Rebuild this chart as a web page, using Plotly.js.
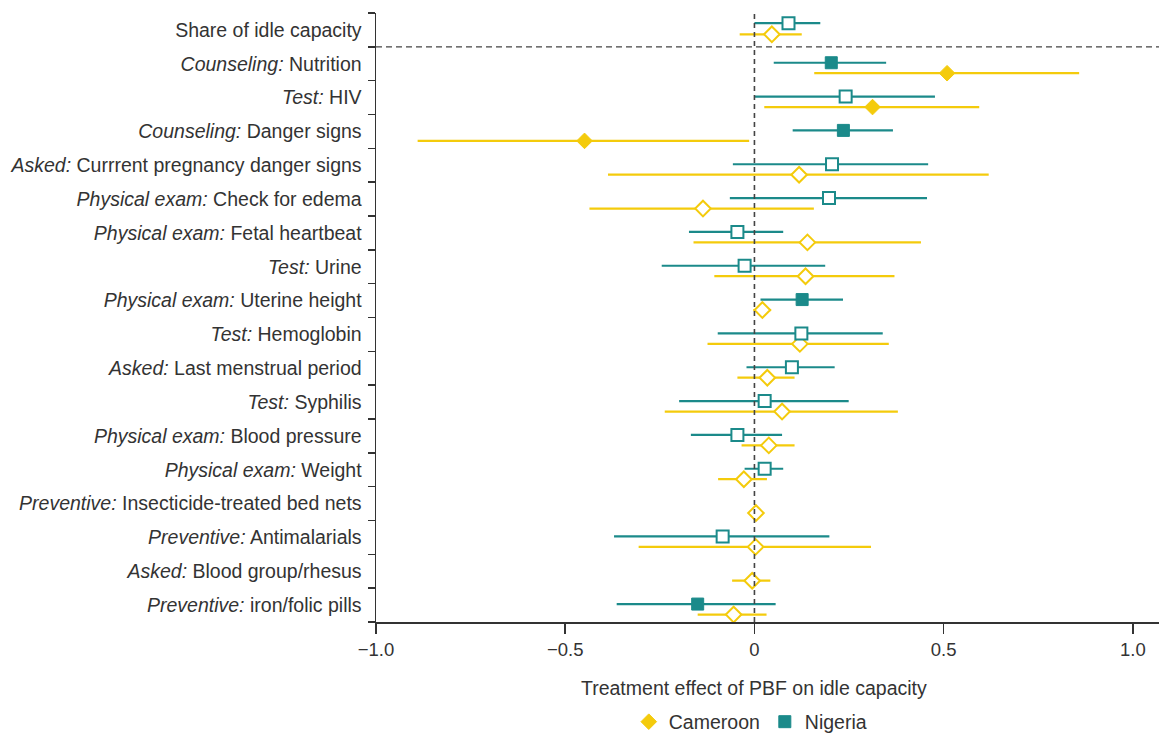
<!DOCTYPE html>
<html><head><meta charset="utf-8">
<script src="https://cdn.plot.ly/plotly-3.0.1.min.js"></script>
<style>html,body{margin:0;padding:0;background:#fff}#chart{width:1159px;height:733px}</style>
</head><body><div id="chart"></div>
<script>
// ---- data ----
const categoryType = ["", "Counseling", "Test", "Counseling", "Asked", "Physical exam", "Physical exam", "Test",
  "Physical exam", "Test", "Asked", "Test", "Physical exam", "Physical exam", "Preventive", "Preventive", "Asked", "Preventive"];
const categoryName = ["Share of idle capacity", "Nutrition", "HIV", "Danger signs", "Currrent pregnancy danger signs",
  "Check for edema", "Fetal heartbeat", "Urine", "Uterine height", "Hemoglobin", "Last menstrual period", "Syphilis",
  "Blood pressure", "Weight", "Insecticide-treated bed nets", "Antimalarials", "Blood group/rhesus", "iron/folic pills"];

const nigeriaEst = [0.090, 0.203, 0.241, 0.235, 0.205, 0.197, -0.045, -0.026, 0.126, 0.124, 0.099, 0.027, -0.045, 0.027, null, -0.084, null, -0.150];
const nigeriaLo  = [0.000, 0.051, 0.000, 0.101, -0.057, -0.065, -0.173, -0.245, 0.016, -0.097, -0.021, -0.199, -0.168, -0.026, null, -0.371, null, -0.364];
const nigeriaHi  = [0.174, 0.348, 0.477, 0.366, 0.459, 0.456, 0.076, 0.187, 0.234, 0.339, 0.212, 0.249, 0.073, 0.076, null, 0.198, null, 0.056];
const nigeriaSig = [0, 1, 0, 1, 0, 0, 0, 0, 1, 0, 0, 0, 0, 0, 0, 0, 0, 1];

const cameroonEst = [0.046, 0.509, 0.312, -0.449, 0.118, -0.136, 0.140, 0.135, 0.021, 0.120, 0.034, 0.073, 0.038, -0.028, 0.004, 0.003, -0.006, -0.055];
const cameroonLo  = [-0.039, 0.158, 0.026, -0.890, -0.387, -0.436, -0.161, -0.106, -0.003, -0.124, -0.045, -0.237, -0.034, -0.096, 0.000, -0.306, -0.059, -0.150];
const cameroonHi  = [0.125, 0.858, 0.594, -0.014, 0.619, 0.157, 0.440, 0.370, 0.044, 0.355, 0.106, 0.379, 0.106, 0.033, 0.008, 0.308, 0.042, 0.032];
const cameroonSig = [0, 1, 1, 1, 0, 0, 0, 0, 0, 0, 0, 0, 0, 0, 0, 0, 0, 0];

const xTickVals = [-1, -0.5, 0, 0.5, 1];
const xTickText = ["\u22121.0", "\u22120.5", "0", "0.5", "1.0"];
const xTitle = "Treatment effect of PBF on idle capacity";

// ---- styles ----
const TEAL = "#1b8a8a";
const YELLOW = "#f4cb0c";
const TEXT = "#333333";
const FONT = "Liberation Sans, Arial, sans-serif";

const labels = categoryName.map((nm, i) => categoryType[i] ? "<i>" + categoryType[i] + ":</i> " + nm : nm);
const rowIdx = categoryName.map((_, i) => i);
const boundaries = [-0.5].concat(rowIdx.map(i => i + 0.5));

function yPos(i, country) {
  if (i === 0) return country === "Nigeria" ? i - 0.2 : i + 0.13;
  return country === "Nigeria" ? i - 0.03 : i + 0.28;
}

function buildTrace(name, est, lo, hi, sig, wantSig, color, symbol, size, showlegend) {
  const x = [], y = [], plus = [], minus = [];
  est.forEach((v, i) => {
    if (v === null) return;
    if (!!sig[i] !== wantSig) return;
    x.push(v); y.push(yPos(i, name));
    plus.push(hi[i] - v); minus.push(v - lo[i]);
  });
  return {
    type: "scatter", mode: "markers", name: name, x: x, y: y,
    showlegend: showlegend, legendgroup: name,
    marker: { symbol: symbol, size: size, color: wantSig ? color : "#ffffff",
      line: { color: color, width: wantSig ? 1 : 2 } },
    error_x: { type: "data", symmetric: false, array: plus, arrayminus: minus,
      color: color, thickness: 2.2, width: 0 },
    cliponaxis: false, hoverinfo: "skip"
  };
}

const traces = [
  buildTrace("Cameroon", cameroonEst, cameroonLo, cameroonHi, cameroonSig, true, YELLOW, "diamond", 12, true),
  buildTrace("Nigeria", nigeriaEst, nigeriaLo, nigeriaHi, nigeriaSig, true, TEAL, "square", 12, true),
  buildTrace("Cameroon", cameroonEst, cameroonLo, cameroonHi, cameroonSig, false, YELLOW, "diamond", 12, false),
  buildTrace("Nigeria", nigeriaEst, nigeriaLo, nigeriaHi, nigeriaSig, false, TEAL, "square", 12, false)
];

const layout = {
  width: 1159, height: 733,
  margin: { l: 376, r: 0, t: 13, b: 111, pad: 0 },
  paper_bgcolor: "#ffffff", plot_bgcolor: "#ffffff",
  font: { family: FONT, size: 19.5, color: TEXT },
  showlegend: true,
  legend: { orientation: "h", x: 0.478, xanchor: "center", xref: "paper",
    y: 0.015, yanchor: "middle", yref: "container", font: { size: 19.5, color: TEXT },
    itemwidth: 30, tracegroupgap: 0 },
  xaxis: {
    range: [-1, 1.069], tickmode: "array", tickvals: xTickVals, ticktext: xTickText,
    ticks: "outside", ticklen: 10, tickwidth: 1.5, tickcolor: TEXT,
    showline: true, linecolor: TEXT, linewidth: 1.5, showgrid: false, zeroline: false,
    tickfont: { size: 18.5, color: TEXT }
  },
  yaxis: {
    range: [17.5, -0.5], tickmode: "array", tickvals: rowIdx, ticktext: labels,
    ticks: "", showline: true, linecolor: TEXT, linewidth: 1.5, showgrid: false, zeroline: false,
    tickfont: { size: 19.5, color: TEXT }, ticklabelstandoff: 9,
    minor: { tickmode: "array", tickvals: boundaries, ticks: "outside", ticklen: 7, tickwidth: 1.5, tickcolor: TEXT, showgrid: false }
  },
  annotations: [
    { text: xTitle, xref: "x", yref: "paper", x: 0, y: -0.108, xanchor: "center", yanchor: "middle",
      showarrow: false, font: { size: 19.5, color: TEXT } }
  ],
  shapes: [
    { type: "line", xref: "x", yref: "paper", x0: 0, x1: 0, y0: 0, y1: 1, layer: "above",
      line: { color: "#444", width: 1.6, dash: "5px,4px" } },
    { type: "line", xref: "paper", yref: "y", x0: 0, x1: 1, y0: boundaries[1], y1: boundaries[1], layer: "above",
      line: { color: "#444", width: 1.4, dash: "6px,4px" } }
  ]
};

Plotly.newPlot("chart", traces, layout, { displayModeBar: false, staticPlot: true });
</script>
</body></html>
